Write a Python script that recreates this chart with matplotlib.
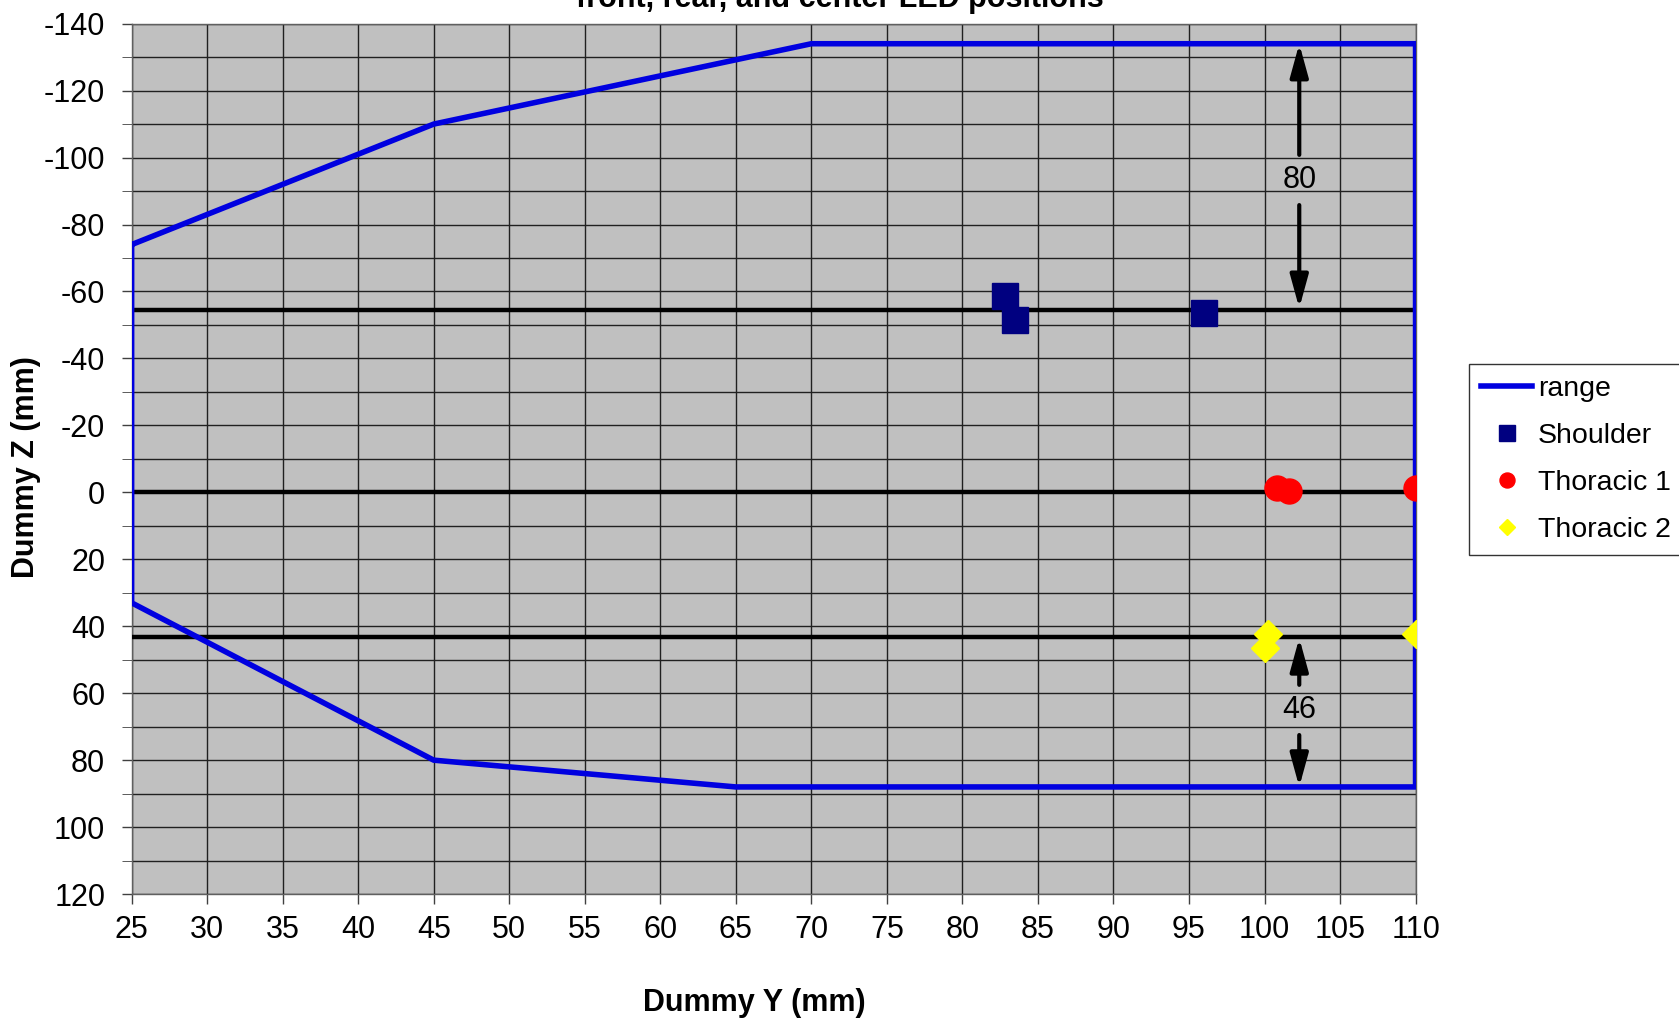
import matplotlib.pyplot as plt
import numpy as np

plt.rcParams['font.family'] = ['Liberation Sans', 'DejaVu Sans']
plt.rcParams['axes.unicode_minus'] = False

# --- data ---
range_y = [25, 45, 70, 110, 110, 65, 45, 25, 25]
range_z = [-74, -110, -134, -134, 88, 88, 80, 33, -74]

shoulder_y = [82.8, 83.5, 96.0]
shoulder_z = [-58.5, -51.6, -53.6]

thoracic1_y = [100.8, 101.6, 110.0]
thoracic1_z = [-1.2, -0.3, -1.4]

thoracic2_y = [100.2, 100.0, 110.0]
thoracic2_z = [42.2, 46.4, 42.3]

ref_lines_z = [-54.6, 0, 43.2]
ref_lines_x = [25, 109.7]

# dimension arrows: (x, top end, bottom end, label, label z, gap around label)
dims = [(102.3, -134, -55, '80', -93.3, 7.5),
        (102.3, 43.5, 88, '46', 65, 7.5)]

fig = plt.figure(figsize=(16.79, 10.19), dpi=100)
ax = fig.add_axes([0.0784, 0.1226, 0.7647, 0.8542])
ax.set_facecolor('#C0C0C0')

ax.set_xlim(25, 110)
ax.set_ylim(120, -140)
ax.set_xticks(np.arange(25, 111, 5))
ax.set_yticks(np.arange(-140, 121, 20))
ax.set_yticks(np.arange(-130, 121, 20), minor=True)
ax.grid(True, which='both', color='#202020', linewidth=1.0)
ax.set_axisbelow(True)
ax.tick_params(axis='both', which='major', labelsize=22, length=7, direction='out', width=1, color='#404040')
ax.tick_params(axis='x', which='major', pad=8)
ax.tick_params(axis='y', which='major', pad=12)
ax.tick_params(axis='y', which='minor', length=7, color='#404040')
for s in ax.spines.values():
    s.set_color('#606060')
    s.set_linewidth(1)

for z in ref_lines_z:
    ax.plot(ref_lines_x, [z, z], color='black', linewidth=3.2, zorder=3)

ax.plot(range_y, range_z, color='#0000E0', linewidth=4, label='range', zorder=4)

ax.plot(shoulder_y, shoulder_z, 's', color='#000080', markersize=19, linestyle='none', label='Shoulder', zorder=5)
ax.plot(thoracic1_y, thoracic1_z, 'o', color='#FF0000', markersize=18, linestyle='none', label='Thoracic 1', zorder=5)
ax.plot(thoracic2_y, thoracic2_z, 'D', color='#FFFF00', markersize=14, linestyle='none', label='Thoracic 2', zorder=5)

arrow = dict(arrowstyle='-|>,head_length=0.8,head_width=0.22', color='black', lw=3,
             mutation_scale=25, shrinkA=0, shrinkB=0)
for x, z_top, z_bot, txt, tz, gap in dims:
    ax.annotate('', xy=(x, z_top), xytext=(x, tz - gap), arrowprops=arrow, zorder=6)
    ax.annotate('', xy=(x, z_bot), xytext=(x, tz + gap), arrowprops=arrow, zorder=6)
    ax.text(x, tz, txt, fontsize=22, ha='center', va='center', zorder=6)

ax.set_xlabel('Dummy Y (mm)', fontsize=22, fontweight='bold', va='center')
ax.xaxis.set_label_coords(0.485, -0.125)
ax.set_ylabel('Dummy Z (mm)', fontsize=22, fontweight='bold', va='center')
ax.yaxis.set_label_coords(-0.082, 0.49)

fig.text(0.5, 0.993, 'front, rear, and center LED positions', fontsize=22,
         fontweight='bold', ha='center', va='baseline')

leg = fig.legend(loc='upper left', bbox_to_anchor=(0.8749, 0.643), borderaxespad=0,
                 fontsize=20.5, markerscale=0.6, handlelength=1.8, handletextpad=0.2,
                 frameon=True, fancybox=False, edgecolor='black', borderpad=0.42,
                 labelspacing=0.74)
leg.get_frame().set_linewidth(1)

fig.savefig('out.png', dpi=100)
